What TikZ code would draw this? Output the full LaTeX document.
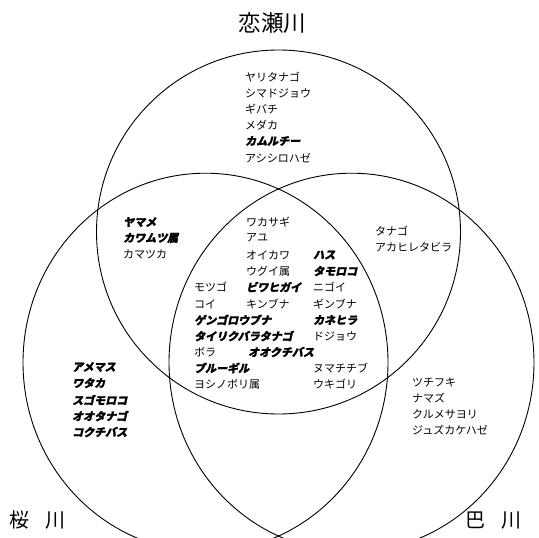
\documentclass[tikz,border=0pt]{standalone}
\usepackage{fontspec}
\setmainfont{Noto Sans CJK JP}
\newfontfamily\jpbi[FakeSlant=0.22,FakeBold=1.6]{Noto Sans CJK JP}
\tikzset{
  ring/.style={draw=black, line width=0.9pt},
  sp/.style={anchor=west, inner sep=0pt, font=\fontsize{11}{13}\selectfont},
  bsp/.style={anchor=west, inner sep=0pt, font=\fontsize{11}{13}\selectfont\jpbi\bfseries},
  river/.style={inner sep=0pt, font=\fontsize{20}{24}\selectfont}
}
\begin{document}
\begin{tikzpicture}[x=1pt,y=-1pt]
\useasboundingbox (0,0) rectangle (539,538);
\clip (0,0) rectangle (539,538);
% circles
\draw[ring] (278.5,232) circle[radius=182pt];
\draw[ring] (205.5,362.5) ellipse[x radius=182.5pt, y radius=189.3pt];
\draw[ring] (351.5,362.5) ellipse[x radius=182.5pt, y radius=189.3pt];
% river names
\node[river, font=\fontsize{22.5}{26}\selectfont] (koise) at (272.5,23) {恋瀬川};
\node[river, anchor=west] (sakura) at (9,520) {桜\hspace{0.8em}川};
\node[river, anchor=west] (tomoe) at (465,520) {巴\hspace{0.8em}川};
% top only
\node[sp] (a1) at (245,77) {ヤリタナゴ};
\node[sp] (a2) at (245,93) {シマドジョウ};
\node[sp] (a3) at (245,109) {ギバチ};
\node[sp] (a4) at (245,125) {メダカ};
\node[bsp] (a5) at (245,141) {カムルチー};
\node[sp] (a6) at (245,158) {アシシロハゼ};
% top + left
\node[bsp] (b1) at (123,222) {ヤマメ};
\node[bsp] (b2) at (123,238) {カワムツ属};
\node[sp] (b3) at (123,254) {カマツカ};
% all three
\node[sp] (c1) at (246,222) {ワカサギ};
\node[sp] (c2) at (246,238) {アユ};
\node[sp] (c3) at (246,255) {オイカワ};
\node[sp] (c4) at (246,271) {ウグイ属};
\node[bsp] (c5) at (313,255) {ハス};
\node[bsp] (c6) at (313,271) {タモロコ};
\node[sp] (c7) at (194,287) {モツゴ};
\node[bsp] (c8) at (246,287) {ビワヒガイ};
\node[sp] (c9) at (313,287) {ニゴイ};
\node[sp] (c10) at (194,304) {コイ};
\node[sp] (c11) at (246,304) {キンブナ};
\node[sp] (c12) at (313,304) {ギンブナ};
\node[bsp] (c13) at (194,320) {ゲンゴロウブナ};
\node[bsp] (c14) at (313,320) {カネヒラ};
\node[bsp] (c15) at (194,336) {タイリクバラタナゴ};
\node[sp] (c16) at (313,336) {ドジョウ};
\node[sp] (c17) at (194,352) {ボラ};
\node[bsp] (c18) at (248,352) {オオクチバス};
\node[bsp] (c19) at (194,368) {ブルーギル};
\node[sp] (c20) at (313,368) {ヌマチチブ};
\node[sp] (c21) at (194,384) {ヨシノボリ属};
\node[sp] (c22) at (313,384) {ウキゴリ};
% top + right
\node[sp] (d1) at (375,231) {タナゴ};
\node[sp] (d2) at (375,247) {アカヒレタビラ};
% right only
\node[sp] (e1) at (412,382) {ツチフキ};
\node[sp] (e2) at (412,398) {ナマズ};
\node[sp] (e3) at (412,414) {クルメサヨリ};
\node[sp] (e4) at (412,430) {ジュズカケハゼ};
% left only
\node[bsp] (f1) at (72,367) {アメマス};
\node[bsp] (f2) at (72,383) {ワタカ};
\node[bsp] (f3) at (72,400) {スゴモロコ};
\node[bsp] (f4) at (72,416) {オオタナゴ};
\node[bsp] (f5) at (72,432) {コクチバス};
\end{tikzpicture}
\end{document}
